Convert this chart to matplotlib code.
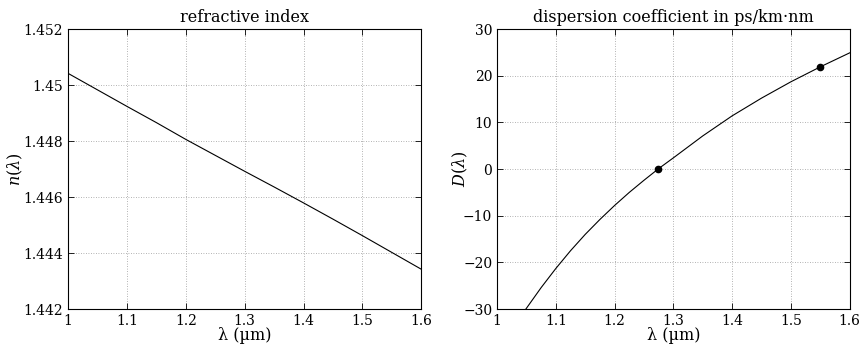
import matplotlib
matplotlib.use("Agg")
import matplotlib.pyplot as plt
from matplotlib.ticker import FuncFormatter

plt.rcParams["font.family"] = "DejaVu Serif"
plt.rcParams["mathtext.fontset"] = "dejavuserif"
plt.rcParams["font.size"] = 10

# refractive index n(lambda)
lam_n = [1.00, 1.05, 1.10, 1.15, 1.20, 1.25, 1.30, 1.35, 1.40, 1.45, 1.50, 1.55, 1.60]
n_vals = [1.45042, 1.44983, 1.44924, 1.44866, 1.44806, 1.44749, 1.44692,
          1.44636, 1.44579, 1.44521, 1.44462, 1.44402, 1.44342]

# dispersion coefficient D(lambda) in ps/km.nm
lam_d = [1.049, 1.075, 1.10, 1.125, 1.15, 1.175, 1.20, 1.225, 1.25, 1.275,
         1.30, 1.35, 1.40, 1.45, 1.50, 1.55, 1.60]
d_vals = [-30.0, -25.4, -21.3, -17.5, -14.0, -10.8, -7.8, -5.0, -2.4, 0.1,
          2.4, 7.1, 11.4, 15.2, 18.7, 21.9, 24.9]

# marked points: zero-dispersion wavelength and 1.55 um
lam_pts = [1.273, 1.55]
d_pts = [0.0, 21.9]

xticks = [1, 1.1, 1.2, 1.3, 1.4, 1.5, 1.6]
n_ticks = [1.442, 1.444, 1.446, 1.448, 1.45, 1.452]
d_ticks = [-30, -20, -10, 0, 10, 20, 30]

fig = plt.figure(figsize=(8.6, 3.5), dpi=100)
ax1 = fig.add_axes([0.079, 0.117, 0.411, 0.800])
ax2 = fig.add_axes([0.578, 0.117, 0.410, 0.800])

fmt = FuncFormatter(lambda v, p: f"{v:g}".replace("-", "\u2212"))


def style(ax):
    ax.grid(True, linestyle=(0, (1, 2)), color="#9a9a9a", linewidth=0.6)
    ax.tick_params(direction="in", top=True, right=True, length=4, width=0.6,
                   labelsize=10)
    for s in ax.spines.values():
        s.set_linewidth(0.8)
    ax.xaxis.set_major_formatter(fmt)
    ax.yaxis.set_major_formatter(fmt)
    ax.set_xlim(1, 1.6)
    ax.set_xticks(xticks)
    ax.set_xlabel("λ (µm)", fontsize=11.5, labelpad=-1)


ax1.plot(lam_n, n_vals, color="black", linewidth=0.8)
style(ax1)
ax1.set_ylim(1.442, 1.452)
ax1.set_yticks(n_ticks)
ax1.set_ylabel(r"$n(\lambda)$", fontsize=11.5, labelpad=-1)
ax1.set_title("refractive index", fontsize=11.5, pad=5)

ax2.plot(lam_d, d_vals, color="black", linewidth=0.8)
ax2.plot(lam_pts, d_pts, "o", color="black", markersize=4.5)
style(ax2)
ax2.set_ylim(-30, 30)
ax2.set_yticks(d_ticks)
ax2.set_ylabel(r"$D(\lambda)$", fontsize=11.5, labelpad=-5)
ax2.set_title("dispersion coefficient in ps/km·nm", fontsize=11.5, pad=5)

fig.savefig("out.png", dpi=100)
